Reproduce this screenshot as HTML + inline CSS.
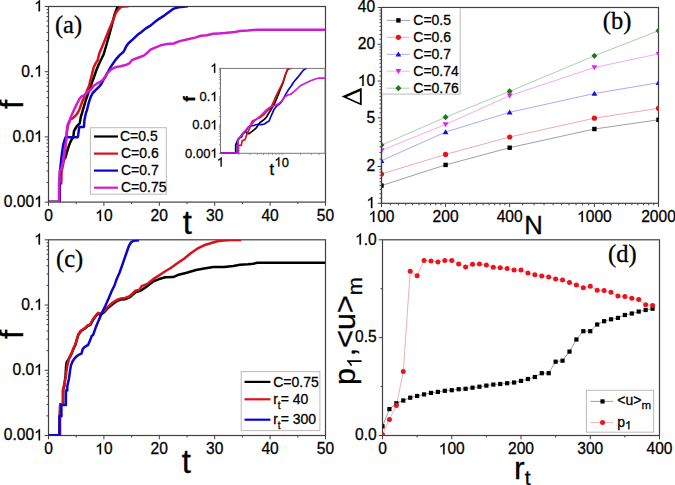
<!DOCTYPE html>
<html><head><meta charset="utf-8"><style>
html,body{margin:0;padding:0;background:#fff;overflow:hidden;}
svg{display:block;}
.s{font-family:"Liberation Sans",sans-serif;stroke:#000;stroke-width:0.28px;}
.r{font-family:"Liberation Serif",serif;stroke:#000;stroke-width:0.28px;}
</style></head><body>
<svg width="675" height="485" viewBox="0 0 675 485">
<defs><clipPath id="cA"><rect x="48.5" y="6.5" width="277.00" height="195.60"/></clipPath><clipPath id="cC"><rect x="48.5" y="239.8" width="277.00" height="195.70"/></clipPath><clipPath id="cI"><rect x="220.5" y="68.4" width="104.50" height="84.90"/></clipPath><clipPath id="cB"><rect x="381.5" y="7.5" width="277.00" height="195.80"/></clipPath><clipPath id="cD"><rect x="382.5" y="239.8" width="277.00" height="195.70"/></clipPath></defs>
<rect width="675" height="485" fill="#fff"/>
<path d="M48.50 202.10v3.8M103.90 202.10v3.8M159.30 202.10v3.8M214.70 202.10v3.8M270.10 202.10v3.8M325.50 202.10v3.8" stroke="#404040" stroke-width="1.0" fill="none"/>
<path d="M76.20 202.10v2.0M131.60 202.10v2.0M187.00 202.10v2.0M242.40 202.10v2.0M297.80 202.10v2.0" stroke="#404040" stroke-width="1.0" fill="none"/>
<path d="M48.50 202.10h-3.8M48.50 136.90h-3.8M48.50 71.70h-3.8M48.50 6.50h-3.8" stroke="#404040" stroke-width="1.0" fill="none"/>
<path d="M48.50 182.47h-2.0M48.50 170.99h-2.0M48.50 162.85h-2.0M48.50 156.53h-2.0M48.50 151.36h-2.0M48.50 147.00h-2.0M48.50 143.22h-2.0M48.50 139.88h-2.0M48.50 117.27h-2.0M48.50 105.79h-2.0M48.50 97.65h-2.0M48.50 91.33h-2.0M48.50 86.16h-2.0M48.50 81.80h-2.0M48.50 78.02h-2.0M48.50 74.68h-2.0M48.50 52.07h-2.0M48.50 40.59h-2.0M48.50 32.45h-2.0M48.50 26.13h-2.0M48.50 20.96h-2.0M48.50 16.60h-2.0M48.50 12.82h-2.0M48.50 9.48h-2.0" stroke="#404040" stroke-width="1.0" fill="none"/>
<rect x="48.50" y="6.50" width="277.00" height="195.60" fill="none" stroke="#404040" stroke-width="1.2"/>
<text x="48.50" y="220.90" font-size="15.6" text-anchor="middle" class="s" >0</text>
<path transform="translate(95.22,220.90) scale(15.6)" d="M0.3726 0H0.2847V-0.5601Q0.2 -0.49 0.1084 -0.4551V-0.54Q0.27 -0.61 0.3208 -0.7158H0.3726Z" fill="#000" stroke="#000" stroke-width="0.0179"/>
<text x="103.90" y="220.90" font-size="15.6" class="s" >0</text>
<text x="159.30" y="220.90" font-size="15.6" text-anchor="middle" class="s" >20</text>
<text x="214.70" y="220.90" font-size="15.6" text-anchor="middle" class="s" >30</text>
<text x="270.10" y="220.90" font-size="15.6" text-anchor="middle" class="s" >40</text>
<text x="325.50" y="220.90" font-size="15.6" text-anchor="middle" class="s" >50</text>
<text x="3.81" y="206.90" font-size="15.6" class="s" >0.00</text>
<path transform="translate(34.17,206.90) scale(15.6)" d="M0.3726 0H0.2847V-0.5601Q0.2 -0.49 0.1084 -0.4551V-0.54Q0.27 -0.61 0.3208 -0.7158H0.3726Z" fill="#000" stroke="#000" stroke-width="0.0179"/>
<text x="12.49" y="141.70" font-size="15.6" class="s" >0.0</text>
<path transform="translate(34.17,141.70) scale(15.6)" d="M0.3726 0H0.2847V-0.5601Q0.2 -0.49 0.1084 -0.4551V-0.54Q0.27 -0.61 0.3208 -0.7158H0.3726Z" fill="#000" stroke="#000" stroke-width="0.0179"/>
<text x="21.16" y="76.50" font-size="15.6" class="s" >0.</text>
<path transform="translate(34.17,76.50) scale(15.6)" d="M0.3726 0H0.2847V-0.5601Q0.2 -0.49 0.1084 -0.4551V-0.54Q0.27 -0.61 0.3208 -0.7158H0.3726Z" fill="#000" stroke="#000" stroke-width="0.0179"/>
<path transform="translate(34.17,11.30) scale(15.6)" d="M0.3726 0H0.2847V-0.5601Q0.2 -0.49 0.1084 -0.4551V-0.54Q0.27 -0.61 0.3208 -0.7158H0.3726Z" fill="#000" stroke="#000" stroke-width="0.0179"/>
<path d="M48.50 435.50v3.8M103.90 435.50v3.8M159.30 435.50v3.8M214.70 435.50v3.8M270.10 435.50v3.8M325.50 435.50v3.8" stroke="#404040" stroke-width="1.0" fill="none"/>
<path d="M76.20 435.50v2.0M131.60 435.50v2.0M187.00 435.50v2.0M242.40 435.50v2.0M297.80 435.50v2.0" stroke="#404040" stroke-width="1.0" fill="none"/>
<path d="M48.50 435.50h-3.8M48.50 370.27h-3.8M48.50 305.03h-3.8M48.50 239.80h-3.8" stroke="#404040" stroke-width="1.0" fill="none"/>
<path d="M48.50 415.86h-2.0M48.50 404.38h-2.0M48.50 396.23h-2.0M48.50 389.90h-2.0M48.50 384.74h-2.0M48.50 380.37h-2.0M48.50 376.59h-2.0M48.50 373.25h-2.0M48.50 350.63h-2.0M48.50 339.14h-2.0M48.50 330.99h-2.0M48.50 324.67h-2.0M48.50 319.51h-2.0M48.50 315.14h-2.0M48.50 311.36h-2.0M48.50 308.02h-2.0M48.50 285.40h-2.0M48.50 273.91h-2.0M48.50 265.76h-2.0M48.50 259.44h-2.0M48.50 254.27h-2.0M48.50 249.90h-2.0M48.50 246.12h-2.0M48.50 242.78h-2.0" stroke="#404040" stroke-width="1.0" fill="none"/>
<rect x="48.50" y="239.80" width="277.00" height="195.70" fill="none" stroke="#404040" stroke-width="1.2"/>
<text x="48.50" y="454.30" font-size="15.6" text-anchor="middle" class="s" >0</text>
<path transform="translate(95.22,454.30) scale(15.6)" d="M0.3726 0H0.2847V-0.5601Q0.2 -0.49 0.1084 -0.4551V-0.54Q0.27 -0.61 0.3208 -0.7158H0.3726Z" fill="#000" stroke="#000" stroke-width="0.0179"/>
<text x="103.90" y="454.30" font-size="15.6" class="s" >0</text>
<text x="159.30" y="454.30" font-size="15.6" text-anchor="middle" class="s" >20</text>
<text x="214.70" y="454.30" font-size="15.6" text-anchor="middle" class="s" >30</text>
<text x="270.10" y="454.30" font-size="15.6" text-anchor="middle" class="s" >40</text>
<text x="325.50" y="454.30" font-size="15.6" text-anchor="middle" class="s" >50</text>
<text x="3.81" y="440.30" font-size="15.6" class="s" >0.00</text>
<path transform="translate(34.17,440.30) scale(15.6)" d="M0.3726 0H0.2847V-0.5601Q0.2 -0.49 0.1084 -0.4551V-0.54Q0.27 -0.61 0.3208 -0.7158H0.3726Z" fill="#000" stroke="#000" stroke-width="0.0179"/>
<text x="12.49" y="375.07" font-size="15.6" class="s" >0.0</text>
<path transform="translate(34.17,375.07) scale(15.6)" d="M0.3726 0H0.2847V-0.5601Q0.2 -0.49 0.1084 -0.4551V-0.54Q0.27 -0.61 0.3208 -0.7158H0.3726Z" fill="#000" stroke="#000" stroke-width="0.0179"/>
<text x="21.16" y="309.83" font-size="15.6" class="s" >0.</text>
<path transform="translate(34.17,309.83) scale(15.6)" d="M0.3726 0H0.2847V-0.5601Q0.2 -0.49 0.1084 -0.4551V-0.54Q0.27 -0.61 0.3208 -0.7158H0.3726Z" fill="#000" stroke="#000" stroke-width="0.0179"/>
<path transform="translate(34.17,244.60) scale(15.6)" d="M0.3726 0H0.2847V-0.5601Q0.2 -0.49 0.1084 -0.4551V-0.54Q0.27 -0.61 0.3208 -0.7158H0.3726Z" fill="#000" stroke="#000" stroke-width="0.0179"/>
<g clip-path="url(#cA)">
<path d="M48.4 202.0 L59.5 202.0 L59.5 185.0 L60.3 171.0 L62.8 162.8 L64.8 158.0 L65.6 157.3 L66.5 153.6 L67.9 148.9 L68.8 146.1 L70.2 142.4 L71.6 139.6 L73.0 137.8 L73.5 135.0 L74.0 131.0 L76.6 126.5 L79.7 123.4 L80.8 117.2 L82.3 112.1 L82.9 110.0 L85.5 101.2 L88.6 92.0 L91.6 83.7 L94.2 76.5 L96.3 70.3 L98.4 65.2 L100.9 60.0 L103.8 54.0 L108.4 38.0 L112.0 24.6 L114.6 14.3 L117.2 7.6 L118.5 6.2" fill="none" stroke="#000" stroke-width="2.5" stroke-linejoin="round" stroke-linecap="butt" />
<path d="M48.4 202.0 L59.8 202.0 L59.8 185.0 L61.3 183.0 L61.5 172.0 L63.0 165.0 L64.5 155.0 L65.5 145.0 L66.5 135.0 L67.9 125.5 L70.5 119.3 L73.0 118.2 L75.6 115.7 L77.2 113.6 L79.2 110.0 L82.4 101.2 L86.5 92.0 L89.1 85.8 L90.6 79.6 L92.2 73.4 L93.7 67.2 L95.8 63.1 L97.8 60.0 L99.1 54.0 L105.3 39.0 L109.4 28.7 L113.0 20.5 L115.6 13.3 L118.2 9.7 L120.7 7.1 L124.0 6.4 L128.4 6.2" fill="none" stroke="#d81218" stroke-width="2.5" stroke-linejoin="round" stroke-linecap="butt" />
<path d="M48.4 202.0 L59.5 202.0 L59.5 185.0 L60.5 166.5 L61.9 153.6 L63.3 144.3 L64.7 139.6 L65.6 137.2 L77.7 137.2 L78.2 134.7 L79.2 127.5 L79.5 127.0 L83.9 127.0 L84.4 120.3 L85.9 113.1 L87.0 110.0 L88.6 103.3 L90.6 97.1 L92.7 93.0 L95.8 89.9 L98.9 86.8 L100.9 84.7 L103.0 80.6 L105.6 76.5 L107.3 73.0 L111.2 66.2 L115.3 60.1 L119.4 55.4 L123.6 51.8 L126.1 46.6 L128.7 43.0 L132.8 39.4 L137.0 35.3 L141.1 32.2 L146.2 28.1 L150.5 25.6 L154.7 22.1 L159.5 18.6 L164.2 15.6 L169.0 12.1 L173.1 8.9 L178.4 7.3 L183.2 6.7 L187.9 6.3" fill="none" stroke="#0c04cc" stroke-width="2.5" stroke-linejoin="round" stroke-linecap="butt" />
<path d="M48.4 202.0 L59.0 202.0 L59.0 182.0 L59.6 182.0 L59.6 171.0 L61.0 170.0 L62.8 162.8 L64.2 153.6 L65.6 144.3 L66.5 138.7 L66.8 133.0 L67.0 128.0 L67.8 124.4 L69.6 120.3 L71.6 115.2 L74.0 110.0 L77.2 103.3 L79.3 99.2 L81.3 96.6 L84.4 95.1 L87.5 92.0 L90.6 89.9 L93.7 85.8 L96.8 83.7 L99.9 82.2 L103.0 79.6 L106.1 75.5 L107.1 73.5 L111.2 69.3 L115.3 67.3 L120.5 66.2 L126.6 64.7 L129.7 63.1 L131.8 60.1 L135.9 58.5 L140.1 57.0 L144.2 55.4 L147.3 52.8 L150.4 49.7 L154.6 47.9 L160.7 45.3 L166.6 44.1 L173.7 43.5 L179.6 41.1 L187.9 39.3 L195.0 37.6 L201.0 35.8 L206.9 35.2 L212.8 33.8 L218.7 33.4 L224.7 33.1 L230.0 32.6 L234.7 32.1 L239.6 31.0 L247.7 30.6 L257.5 29.7 L325.1 29.7" fill="none" stroke="#d01cd0" stroke-width="2.5" stroke-linejoin="round" stroke-linecap="butt" />
</g>
<g clip-path="url(#cC)">
<path d="M48.5 435.2 L59.9 435.2 L59.9 414.6 L60.2 404.4 L63.0 404.0 L63.0 390.0 L64.2 386.2 L65.5 375.9 L66.0 367.5 L66.6 362.5 L69.6 357.6 L71.7 353.4 L73.7 348.3 L75.3 345.2 L78.3 335.0 L81.0 331.0 L85.0 328.5 L87.7 325.8 L90.2 325.1 L93.3 319.4 L96.4 315.3 L98.4 313.4 L100.3 315.0 L104.4 312.0 L108.6 307.5 L112.7 304.0 L116.8 301.2 L120.9 299.6 L125.1 299.2 L129.2 297.5 L131.2 296.2 L133.3 294.2 L135.4 292.4 L139.5 291.0 L141.7 290.0 L147.3 286.1 L152.9 281.7 L158.5 279.4 L160.0 278.7 L165.3 277.3 L173.3 277.1 L178.7 274.7 L186.7 272.7 L196.0 270.0 L204.0 268.4 L213.3 267.1 L224.0 266.9 L233.3 266.0 L240.0 264.8 L248.0 264.3 L253.3 263.7 L257.3 262.7 L325.3 262.7" fill="none" stroke="#000" stroke-width="2.5" stroke-linejoin="round" stroke-linecap="butt" />
<path d="M48.5 435.2 L59.9 435.2 L59.9 414.6 L60.2 404.4 L63.0 404.0 L63.0 390.0 L64.0 385.1 L64.2 386.2 L65.8 375.9 L67.3 365.6 L69.4 357.4 L71.5 353.2 L73.5 348.1 L75.1 345.0 L78.1 334.8 L80.8 330.7 L84.8 328.1 L87.5 325.4 L90.0 324.7 L93.1 319.0 L96.2 314.9 L98.2 312.8 L100.3 313.9 L104.4 310.8 L108.6 306.1 L112.7 302.5 L116.8 300.0 L120.9 298.4 L125.1 297.9 L129.2 296.3 L131.2 294.8 L133.3 292.7 L135.4 290.7 L139.5 289.6 L141.7 286.1 L147.3 283.9 L152.9 279.4 L159.6 275.0 L165.3 271.3 L170.7 268.0 L177.3 263.3 L184.0 258.7 L190.7 253.3 L197.3 248.7 L204.0 245.3 L210.7 243.3 L217.3 241.3 L224.0 240.4 L230.7 240.1 L241.3 240.0" fill="none" stroke="#d81218" stroke-width="2.5" stroke-linejoin="round" stroke-linecap="butt" />
<path d="M48.5 435.2 L59.4 435.2 L59.4 416.2 L61.4 416.2 L61.4 404.9 L65.9 404.9 L65.9 390.5 L67.3 390.5 L67.3 386.2 L68.9 379.0 L69.9 371.8 L70.9 365.6 L72.5 361.5 L74.6 358.4 L76.6 356.3 L79.7 354.3 L81.5 353.6 L82.8 348.9 L84.8 346.8 L88.2 344.8 L90.2 340.1 L91.6 336.1 L93.1 335.0 L96.2 326.2 L99.3 319.0 L102.4 311.8 L105.5 305.6 L108.6 298.4 L111.6 291.2 L114.7 285.0 L116.1 280.5 L119.5 272.7 L122.3 265.0 L125.0 257.2 L127.3 250.5 L128.9 246.0 L131.2 242.1 L134.0 240.7 L139.0 240.2" fill="none" stroke="#0c04cc" stroke-width="2.5" stroke-linejoin="round" stroke-linecap="butt" />
</g>
<rect x="90.4" y="127.7" width="75.9" height="66.5" fill="#fff" stroke="#bbb" stroke-width="1"/>
<path d="M94 136.5H118" stroke="#000" stroke-width="2.2"/>
<text x="120.00" y="141.10" font-size="14" text-anchor="start" class="s" >C=0.5</text>
<path d="M94 153.6H118" stroke="#d81218" stroke-width="2.2"/>
<text x="121.00" y="158.15" font-size="14" text-anchor="start" class="s" >C=0.6</text>
<path d="M94 170.6H118" stroke="#0c04cc" stroke-width="2.2"/>
<text x="121.00" y="175.20" font-size="14" text-anchor="start" class="s" >C=0.7</text>
<path d="M94 187.7H118" stroke="#d01cd0" stroke-width="2.2"/>
<text x="121.00" y="192.25" font-size="14" text-anchor="start" class="s" >C=0.75</text>
<rect x="220.5" y="68.4" width="104.5" height="84.9" fill="#fff" stroke="none"/>
<path d="M220.5 144.78h-1.6M220.5 139.80h-1.6M220.5 136.26h-1.6M220.5 133.52h-1.6M220.5 131.28h-1.6M220.5 129.38h-1.6M220.5 127.74h-1.6M220.5 126.29h-1.6M220.5 116.48h-1.6M220.5 111.50h-1.6M220.5 107.96h-1.6M220.5 105.22h-1.6M220.5 102.98h-1.6M220.5 101.08h-1.6M220.5 99.44h-1.6M220.5 97.99h-1.6M220.5 88.18h-1.6M220.5 83.20h-1.6M220.5 79.66h-1.6M220.5 76.92h-1.6M220.5 74.68h-1.6M220.5 72.78h-1.6M220.5 71.14h-1.6M220.5 69.69h-1.6M220.5 153.30h-1.6M220.5 125.00h-1.6M220.5 96.70h-1.6M220.5 68.40h-1.6" stroke="#777" stroke-width="0.8"/>
<path d="M239.02 153.3v1.6M249.85 153.3v1.6M257.53 153.3v1.6M263.49 153.3v1.6M268.36 153.3v1.6M272.48 153.3v1.6M276.05 153.3v1.6M279.19 153.3v1.6M282.01 153.3v1.6M300.52 153.3v1.6M311.35 153.3v1.6M319.04 153.3v1.6" stroke="#777" stroke-width="0.8"/>
<rect x="220.5" y="68.4" width="104.5" height="84.9" fill="none" stroke="#777" stroke-width="1"/>
<g clip-path="url(#cI)">
<path d="M220.5 153.2 L235.7 153.2 L235.7 144.8 L237.6 140.6 L240.3 136.9 L242.7 133.7 L245.0 131.3 L247.0 133.2 L249.2 133.7 L253.3 130.4 L256.1 128.1 L259.8 122.6 L263.6 120.0 L266.3 117.3 L269.1 112.6 L271.9 108.0 L274.7 103.3 L276.6 98.7 L278.4 94.1 L280.7 88.5 L283.0 82.9 L285.2 75.5 L287.3 70.0 L289.0 68.5" fill="none" stroke="#000" stroke-width="1.7" stroke-linejoin="round" stroke-linecap="butt" />
<path d="M220.5 153.2 L238.5 153.2 L238.5 145.3 L241.3 145.3 L242.2 140.6 L245.0 139.7 L245.9 136.9 L247.3 133.2 L249.6 128.6 L251.0 123.9 L252.4 121.1 L256.1 119.3 L259.8 117.8 L264.5 114.0 L267.3 110.8 L270.1 108.4 L271.9 105.2 L273.8 101.5 L275.6 96.8 L277.5 93.1 L279.3 89.4 L281.2 85.7 L283.0 82.0 L285.2 75.0 L287.5 69.5 L289.8 68.5 L292.1 68.4" fill="none" stroke="#d81218" stroke-width="1.7" stroke-linejoin="round" stroke-linecap="butt" />
<path d="M220.5 153.2 L237.6 153.2 L237.6 140.6 L239.4 137.8 L241.7 136.9 L243.1 133.7 L245.9 130.9 L248.2 127.2 L250.6 125.8 L254.3 125.3 L258.0 124.3 L261.7 124.6 L264.5 124.0 L267.3 121.9 L269.1 121.0 L271.0 116.3 L273.8 109.8 L276.6 106.1 L280.3 103.3 L283.0 99.6 L285.8 94.1 L288.6 89.4 L291.4 85.7 L293.7 82.0 L298.1 76.9 L302.7 70.9 L305.4 68.6 L306.8 68.4" fill="none" stroke="#0c04cc" stroke-width="1.7" stroke-linejoin="round" stroke-linecap="butt" />
<path d="M220.5 153.2 L238.0 153.2 L238.0 139.0 L239.4 137.8 L242.2 135.0 L245.0 131.3 L246.8 128.6 L249.2 126.7 L251.9 123.9 L254.3 121.1 L258.0 118.0 L261.7 114.5 L265.4 110.8 L268.2 108.4 L271.9 106.1 L275.6 105.2 L279.3 103.3 L282.1 100.6 L284.9 96.8 L287.7 95.0 L290.5 94.5 L293.3 92.2 L296.0 89.9 L298.0 88.0 L299.9 86.0 L304.5 83.7 L310.0 81.0 L314.6 79.2 L318.3 78.2 L325.0 78.2" fill="none" stroke="#d01cd0" stroke-width="1.7" stroke-linejoin="round" stroke-linecap="butt" />
</g>
<path transform="translate(210.37,72.80) scale(13)" d="M0.3726 0H0.2847V-0.5601Q0.2 -0.49 0.1084 -0.4551V-0.54Q0.27 -0.61 0.3208 -0.7158H0.3726Z" fill="#000" stroke="#000" stroke-width="0.0215"/>
<text x="199.53" y="101.10" font-size="13" class="s" >0.</text>
<path transform="translate(210.37,101.10) scale(13)" d="M0.3726 0H0.2847V-0.5601Q0.2 -0.49 0.1084 -0.4551V-0.54Q0.27 -0.61 0.3208 -0.7158H0.3726Z" fill="#000" stroke="#000" stroke-width="0.0215"/>
<text x="192.30" y="129.40" font-size="13" class="s" >0.0</text>
<path transform="translate(210.37,129.40) scale(13)" d="M0.3726 0H0.2847V-0.5601Q0.2 -0.49 0.1084 -0.4551V-0.54Q0.27 -0.61 0.3208 -0.7158H0.3726Z" fill="#000" stroke="#000" stroke-width="0.0215"/>
<text x="185.07" y="157.70" font-size="13" class="s" >0.00</text>
<path transform="translate(210.37,157.70) scale(13)" d="M0.3726 0H0.2847V-0.5601Q0.2 -0.49 0.1084 -0.4551V-0.54Q0.27 -0.61 0.3208 -0.7158H0.3726Z" fill="#000" stroke="#000" stroke-width="0.0215"/>
<path transform="translate(216.88,166.60) scale(13)" d="M0.3726 0H0.2847V-0.5601Q0.2 -0.49 0.1084 -0.4551V-0.54Q0.27 -0.61 0.3208 -0.7158H0.3726Z" fill="#000" stroke="#000" stroke-width="0.0215"/>
<path transform="translate(274.48,166.60) scale(13)" d="M0.3726 0H0.2847V-0.5601Q0.2 -0.49 0.1084 -0.4551V-0.54Q0.27 -0.61 0.3208 -0.7158H0.3726Z" fill="#000" stroke="#000" stroke-width="0.0215"/>
<text x="281.71" y="166.60" font-size="13" class="s" >0</text>
<text x="269.40" y="174.60" font-size="16.5" text-anchor="start" class="s" >t</text>
<text transform="translate(195.0,98.8) rotate(-90)" font-size="17" font-weight="bold" class="s" text-anchor="middle">f</text>
<path d="M381.50 203.30v3.8M445.59 203.30v3.8M509.68 203.30v3.8M594.41 203.30v3.8M658.50 203.30v3.8" stroke="#404040" stroke-width="1.0" fill="none"/>
<path d="M390.31 203.30v2.0M398.36 203.30v2.0M405.76 203.30v2.0M412.61 203.30v2.0M418.99 203.30v2.0M424.96 203.30v2.0M430.56 203.30v2.0M435.85 203.30v2.0M440.85 203.30v2.0M454.40 203.30v2.0M462.45 203.30v2.0M469.85 203.30v2.0M476.70 203.30v2.0M483.08 203.30v2.0M489.05 203.30v2.0M494.66 203.30v2.0M499.94 203.30v2.0M504.94 203.30v2.0M522.61 203.30v2.0M533.94 203.30v2.0M544.04 203.30v2.0M553.14 203.30v2.0M561.43 203.30v2.0M569.03 203.30v2.0M576.06 203.30v2.0M582.59 203.30v2.0M588.69 203.30v2.0M603.22 203.30v2.0M611.27 203.30v2.0M618.67 203.30v2.0M625.52 203.30v2.0M631.90 203.30v2.0M637.87 203.30v2.0M643.47 203.30v2.0M648.76 203.30v2.0M653.76 203.30v2.0" stroke="#404040" stroke-width="1.0" fill="none"/>
<path d="M381.50 203.30h-3.8M381.50 166.51h-3.8M381.50 117.87h-3.8M381.50 81.08h-3.8M381.50 44.29h-3.8M381.50 7.50h-3.8" stroke="#404040" stroke-width="1.0" fill="none"/>
<path d="M381.50 198.24h-2.0M381.50 193.62h-2.0M381.50 189.37h-2.0M381.50 185.44h-2.0M381.50 181.78h-2.0M381.50 178.35h-2.0M381.50 175.14h-2.0M381.50 172.10h-2.0M381.50 169.23h-2.0M381.50 159.09h-2.0M381.50 152.58h-2.0M381.50 146.79h-2.0M381.50 141.56h-2.0M381.50 136.81h-2.0M381.50 132.44h-2.0M381.50 128.41h-2.0M381.50 124.66h-2.0M381.50 121.16h-2.0M381.50 112.81h-2.0M381.50 108.20h-2.0M381.50 103.95h-2.0M381.50 100.01h-2.0M381.50 96.35h-2.0M381.50 92.93h-2.0M381.50 89.71h-2.0M381.50 86.67h-2.0M381.50 83.80h-2.0M381.50 76.02h-2.0M381.50 71.41h-2.0M381.50 67.16h-2.0M381.50 63.22h-2.0M381.50 59.56h-2.0M381.50 56.14h-2.0M381.50 52.92h-2.0M381.50 49.88h-2.0M381.50 47.01h-2.0M381.50 39.23h-2.0M381.50 34.61h-2.0M381.50 30.37h-2.0M381.50 26.43h-2.0M381.50 22.77h-2.0M381.50 19.34h-2.0M381.50 16.13h-2.0M381.50 13.09h-2.0M381.50 10.22h-2.0" stroke="#404040" stroke-width="1.0" fill="none"/>
<rect x="381.50" y="7.50" width="277.00" height="195.80" fill="none" stroke="#404040" stroke-width="1.2"/>
<g clip-path="url(#cB)">
<path d="M381.5 185.6 L445.6 164.9 L509.7 147.7 L594.4 129.0 L658.5 119.8" fill="none" stroke="#959595" stroke-width="0.9" stroke-linejoin="round" stroke-linecap="butt" />
<path d="M381.5 174.0 L445.6 154.4 L509.7 137.0 L594.4 118.2 L658.5 108.3" fill="none" stroke="#f2a0a0" stroke-width="0.9" stroke-linejoin="round" stroke-linecap="butt" />
<path d="M381.5 160.7 L445.6 132.0 L509.7 112.3 L594.4 93.5 L658.5 82.7" fill="none" stroke="#a0a0f2" stroke-width="0.9" stroke-linejoin="round" stroke-linecap="butt" />
<path d="M381.5 150.4 L445.6 124.4 L509.7 95.7 L594.4 67.5 L658.5 53.9" fill="none" stroke="#f2a0f2" stroke-width="0.9" stroke-linejoin="round" stroke-linecap="butt" />
<path d="M381.5 145.1 L445.6 117.2 L509.7 91.3 L594.4 55.8 L658.5 30.7" fill="none" stroke="#a0cca0" stroke-width="0.9" stroke-linejoin="round" stroke-linecap="butt" />
<rect x="379.30" y="183.40" width="4.40" height="4.40" fill="#000"/>
<rect x="443.39" y="162.70" width="4.40" height="4.40" fill="#000"/>
<rect x="507.48" y="145.50" width="4.40" height="4.40" fill="#000"/>
<rect x="592.21" y="126.80" width="4.40" height="4.40" fill="#000"/>
<rect x="656.30" y="117.60" width="4.40" height="4.40" fill="#000"/>
<circle cx="381.50" cy="174.00" r="2.60" fill="#e8141e"/>
<circle cx="445.59" cy="154.40" r="2.60" fill="#e8141e"/>
<circle cx="509.68" cy="137.00" r="2.60" fill="#e8141e"/>
<circle cx="594.41" cy="118.20" r="2.60" fill="#e8141e"/>
<circle cx="658.50" cy="108.30" r="2.60" fill="#e8141e"/>
<path d="M381.50 157.90L384.40 162.90H378.60Z" fill="#1414d8"/>
<path d="M445.59 129.20L448.49 134.20H442.69Z" fill="#1414d8"/>
<path d="M509.68 109.50L512.58 114.50H506.78Z" fill="#1414d8"/>
<path d="M594.41 90.70L597.31 95.70H591.51Z" fill="#1414d8"/>
<path d="M658.50 79.90L661.40 84.90H655.60Z" fill="#1414d8"/>
<path d="M381.50 153.20L384.40 148.20H378.60Z" fill="#e61ee6"/>
<path d="M445.59 127.20L448.49 122.20H442.69Z" fill="#e61ee6"/>
<path d="M509.68 98.50L512.58 93.50H506.78Z" fill="#e61ee6"/>
<path d="M594.41 70.30L597.31 65.30H591.51Z" fill="#e61ee6"/>
<path d="M658.50 56.70L661.40 51.70H655.60Z" fill="#e61ee6"/>
<path d="M381.50 142.00L384.50 145.10L381.50 148.20L378.50 145.10Z" fill="#1e781e"/>
<path d="M445.59 114.10L448.59 117.20L445.59 120.30L442.59 117.20Z" fill="#1e781e"/>
<path d="M509.68 88.20L512.68 91.30L509.68 94.40L506.68 91.30Z" fill="#1e781e"/>
<path d="M594.41 52.70L597.41 55.80L594.41 58.90L591.41 55.80Z" fill="#1e781e"/>
<path d="M658.50 27.60L661.50 30.70L658.50 33.80L655.50 30.70Z" fill="#1e781e"/>
</g>
<rect x="381.5" y="7.5" width="78.7" height="86.6" fill="#fff" stroke="#bbb" stroke-width="1"/>
<path d="M386.9 20.4H409.7" stroke="#959595" stroke-width="0.9"/>
<rect x="396.20" y="18.20" width="4.40" height="4.40" fill="#000"/>
<text x="413.30" y="25.00" font-size="14" text-anchor="start" class="s" >C=0.5</text>
<path d="M386.9 37.3H409.7" stroke="#f2a0a0" stroke-width="0.9"/>
<circle cx="398.40" cy="37.35" r="2.60" fill="#e8141e"/>
<text x="413.30" y="41.95" font-size="14" text-anchor="start" class="s" >C=0.6</text>
<path d="M386.9 54.3H409.7" stroke="#a0a0f2" stroke-width="0.9"/>
<path d="M398.40 51.50L401.30 56.50H395.50Z" fill="#1414d8"/>
<text x="413.30" y="58.90" font-size="14" text-anchor="start" class="s" >C=0.7</text>
<path d="M386.9 71.2H409.7" stroke="#f2a0f2" stroke-width="0.9"/>
<path d="M398.40 74.05L401.30 69.05H395.50Z" fill="#e61ee6"/>
<text x="413.30" y="75.85" font-size="14" text-anchor="start" class="s" >C=0.74</text>
<path d="M386.9 88.2H409.7" stroke="#a0cca0" stroke-width="0.9"/>
<path d="M398.40 85.10L401.40 88.20L398.40 91.30L395.40 88.20Z" fill="#1e781e"/>
<text x="413.30" y="92.80" font-size="14" text-anchor="start" class="s" >C=0.76</text>
<path d="M381.5 203.3V7.5H658.5" fill="none" stroke="#404040" stroke-width="1.2"/>
<path transform="translate(368.49,222.10) scale(15.6)" d="M0.3726 0H0.2847V-0.5601Q0.2 -0.49 0.1084 -0.4551V-0.54Q0.27 -0.61 0.3208 -0.7158H0.3726Z" fill="#000" stroke="#000" stroke-width="0.0179"/>
<text x="377.16" y="222.10" font-size="15.6" class="s" >00</text>
<text x="445.59" y="222.10" font-size="15.6" text-anchor="middle" class="s" >200</text>
<text x="509.68" y="222.10" font-size="15.6" text-anchor="middle" class="s" >400</text>
<path transform="translate(577.06,222.10) scale(15.6)" d="M0.3726 0H0.2847V-0.5601Q0.2 -0.49 0.1084 -0.4551V-0.54Q0.27 -0.61 0.3208 -0.7158H0.3726Z" fill="#000" stroke="#000" stroke-width="0.0179"/>
<text x="585.73" y="222.10" font-size="15.6" class="s" >000</text>
<text x="658.50" y="222.10" font-size="15.6" text-anchor="middle" class="s" >2000</text>
<path transform="translate(366.52,208.10) scale(15.6)" d="M0.3726 0H0.2847V-0.5601Q0.2 -0.49 0.1084 -0.4551V-0.54Q0.27 -0.61 0.3208 -0.7158H0.3726Z" fill="#000" stroke="#000" stroke-width="0.0179"/>
<text x="375.20" y="171.31" font-size="15.6" text-anchor="end" class="s" >2</text>
<text x="375.20" y="122.67" font-size="15.6" text-anchor="end" class="s" >5</text>
<path transform="translate(357.85,85.88) scale(15.6)" d="M0.3726 0H0.2847V-0.5601Q0.2 -0.49 0.1084 -0.4551V-0.54Q0.27 -0.61 0.3208 -0.7158H0.3726Z" fill="#000" stroke="#000" stroke-width="0.0179"/>
<text x="366.52" y="85.88" font-size="15.6" class="s" >0</text>
<text x="375.20" y="49.09" font-size="15.6" text-anchor="end" class="s" >20</text>
<text x="375.20" y="12.30" font-size="15.6" text-anchor="end" class="s" >40</text>
<path d="M382.50 435.50v3.8M451.75 435.50v3.8M521.00 435.50v3.8M590.25 435.50v3.8M659.50 435.50v3.8" stroke="#404040" stroke-width="1.0" fill="none"/>
<path d="M417.12 435.50v2.0M486.38 435.50v2.0M555.62 435.50v2.0M624.88 435.50v2.0" stroke="#404040" stroke-width="1.0" fill="none"/>
<path d="M382.50 435.50h-3.8M382.50 337.65h-3.8M382.50 239.80h-3.8" stroke="#404040" stroke-width="1.0" fill="none"/>
<path d="M382.50 386.57h-2.0M382.50 288.73h-2.0" stroke="#404040" stroke-width="1.0" fill="none"/>
<rect x="382.50" y="239.80" width="277.00" height="195.70" fill="none" stroke="#404040" stroke-width="1.2"/>
<g clip-path="url(#cD)">
<path d="M382.5 426.3 L389.4 409.1 L396.4 403.3 L403.3 400.5 L410.2 397.7 L417.1 396.0 L424.1 394.4 L431.0 392.9 L437.9 391.9 L444.8 390.8 L451.8 390.2 L458.7 389.2 L465.6 388.8 L472.5 387.7 L479.4 386.7 L486.4 385.6 L493.3 384.6 L500.2 384.0 L507.1 383.2 L514.1 382.5 L521.0 380.9 L527.9 379.0 L534.9 377.0 L541.8 373.2 L548.7 373.2 L555.6 361.7 L562.5 360.7 L569.5 351.6 L576.4 339.5 L583.3 331.2 L590.2 331.2 L597.2 324.5 L604.1 321.2 L611.0 319.3 L618.0 317.9 L624.9 315.0 L631.8 313.5 L638.7 311.6 L645.6 310.0 L652.6 308.7" fill="none" stroke="#888" stroke-width="0.8" stroke-linejoin="round" stroke-linecap="butt" />
<path d="M382.5 434.8 L389.4 419.4 L396.4 405.6 L403.3 371.5 L410.2 271.3 L417.1 275.8 L424.1 260.4 L431.0 261.1 L437.9 261.9 L444.8 260.4 L451.8 260.5 L458.7 263.9 L465.6 267.1 L472.5 264.2 L479.4 264.1 L486.4 265.1 L493.3 267.3 L500.2 267.8 L507.1 268.5 L514.1 270.0 L521.0 270.0 L527.9 273.0 L534.9 274.7 L541.8 275.9 L548.7 277.0 L555.6 279.1 L562.5 280.0 L569.5 282.5 L576.4 285.1 L583.3 287.7 L590.2 286.3 L597.2 290.2 L604.1 290.6 L611.0 292.3 L618.0 296.0 L624.9 296.5 L631.8 298.2 L638.7 299.6 L645.6 304.7 L652.6 305.5" fill="none" stroke="#f39a9a" stroke-width="0.8" stroke-linejoin="round" stroke-linecap="butt" />
<rect x="380.40" y="424.20" width="4.2" height="4.2" fill="#000"/>
<rect x="387.32" y="407.00" width="4.2" height="4.2" fill="#000"/>
<rect x="394.25" y="401.20" width="4.2" height="4.2" fill="#000"/>
<rect x="401.17" y="398.40" width="4.2" height="4.2" fill="#000"/>
<rect x="408.10" y="395.60" width="4.2" height="4.2" fill="#000"/>
<rect x="415.02" y="393.90" width="4.2" height="4.2" fill="#000"/>
<rect x="421.95" y="392.30" width="4.2" height="4.2" fill="#000"/>
<rect x="428.88" y="390.80" width="4.2" height="4.2" fill="#000"/>
<rect x="435.80" y="389.80" width="4.2" height="4.2" fill="#000"/>
<rect x="442.72" y="388.70" width="4.2" height="4.2" fill="#000"/>
<rect x="449.65" y="388.10" width="4.2" height="4.2" fill="#000"/>
<rect x="456.57" y="387.10" width="4.2" height="4.2" fill="#000"/>
<rect x="463.50" y="386.70" width="4.2" height="4.2" fill="#000"/>
<rect x="470.42" y="385.60" width="4.2" height="4.2" fill="#000"/>
<rect x="477.35" y="384.60" width="4.2" height="4.2" fill="#000"/>
<rect x="484.27" y="383.50" width="4.2" height="4.2" fill="#000"/>
<rect x="491.20" y="382.50" width="4.2" height="4.2" fill="#000"/>
<rect x="498.12" y="381.90" width="4.2" height="4.2" fill="#000"/>
<rect x="505.05" y="381.10" width="4.2" height="4.2" fill="#000"/>
<rect x="511.98" y="380.40" width="4.2" height="4.2" fill="#000"/>
<rect x="518.90" y="378.80" width="4.2" height="4.2" fill="#000"/>
<rect x="525.82" y="376.90" width="4.2" height="4.2" fill="#000"/>
<rect x="532.75" y="374.90" width="4.2" height="4.2" fill="#000"/>
<rect x="539.67" y="371.10" width="4.2" height="4.2" fill="#000"/>
<rect x="546.60" y="371.10" width="4.2" height="4.2" fill="#000"/>
<rect x="553.52" y="359.60" width="4.2" height="4.2" fill="#000"/>
<rect x="560.45" y="358.60" width="4.2" height="4.2" fill="#000"/>
<rect x="567.38" y="349.50" width="4.2" height="4.2" fill="#000"/>
<rect x="574.30" y="337.40" width="4.2" height="4.2" fill="#000"/>
<rect x="581.23" y="329.10" width="4.2" height="4.2" fill="#000"/>
<rect x="588.15" y="329.10" width="4.2" height="4.2" fill="#000"/>
<rect x="595.07" y="322.40" width="4.2" height="4.2" fill="#000"/>
<rect x="602.00" y="319.10" width="4.2" height="4.2" fill="#000"/>
<rect x="608.92" y="317.20" width="4.2" height="4.2" fill="#000"/>
<rect x="615.85" y="315.80" width="4.2" height="4.2" fill="#000"/>
<rect x="622.77" y="312.90" width="4.2" height="4.2" fill="#000"/>
<rect x="629.70" y="311.40" width="4.2" height="4.2" fill="#000"/>
<rect x="636.62" y="309.50" width="4.2" height="4.2" fill="#000"/>
<rect x="643.55" y="307.90" width="4.2" height="4.2" fill="#000"/>
<rect x="650.48" y="306.60" width="4.2" height="4.2" fill="#000"/>
<circle cx="382.50" cy="434.80" r="2.5" fill="#e8141e"/>
<circle cx="389.43" cy="419.40" r="2.5" fill="#e8141e"/>
<circle cx="396.35" cy="405.60" r="2.5" fill="#e8141e"/>
<circle cx="403.27" cy="371.50" r="2.5" fill="#e8141e"/>
<circle cx="410.20" cy="271.30" r="2.5" fill="#e8141e"/>
<circle cx="417.12" cy="275.80" r="2.5" fill="#e8141e"/>
<circle cx="424.05" cy="260.40" r="2.5" fill="#e8141e"/>
<circle cx="430.98" cy="261.10" r="2.5" fill="#e8141e"/>
<circle cx="437.90" cy="261.90" r="2.5" fill="#e8141e"/>
<circle cx="444.82" cy="260.40" r="2.5" fill="#e8141e"/>
<circle cx="451.75" cy="260.50" r="2.5" fill="#e8141e"/>
<circle cx="458.68" cy="263.90" r="2.5" fill="#e8141e"/>
<circle cx="465.60" cy="267.10" r="2.5" fill="#e8141e"/>
<circle cx="472.52" cy="264.20" r="2.5" fill="#e8141e"/>
<circle cx="479.45" cy="264.10" r="2.5" fill="#e8141e"/>
<circle cx="486.38" cy="265.10" r="2.5" fill="#e8141e"/>
<circle cx="493.30" cy="267.30" r="2.5" fill="#e8141e"/>
<circle cx="500.23" cy="267.80" r="2.5" fill="#e8141e"/>
<circle cx="507.15" cy="268.50" r="2.5" fill="#e8141e"/>
<circle cx="514.08" cy="270.00" r="2.5" fill="#e8141e"/>
<circle cx="521.00" cy="270.00" r="2.5" fill="#e8141e"/>
<circle cx="527.92" cy="273.00" r="2.5" fill="#e8141e"/>
<circle cx="534.85" cy="274.70" r="2.5" fill="#e8141e"/>
<circle cx="541.77" cy="275.90" r="2.5" fill="#e8141e"/>
<circle cx="548.70" cy="277.00" r="2.5" fill="#e8141e"/>
<circle cx="555.62" cy="279.10" r="2.5" fill="#e8141e"/>
<circle cx="562.55" cy="280.00" r="2.5" fill="#e8141e"/>
<circle cx="569.48" cy="282.50" r="2.5" fill="#e8141e"/>
<circle cx="576.40" cy="285.10" r="2.5" fill="#e8141e"/>
<circle cx="583.33" cy="287.70" r="2.5" fill="#e8141e"/>
<circle cx="590.25" cy="286.30" r="2.5" fill="#e8141e"/>
<circle cx="597.17" cy="290.20" r="2.5" fill="#e8141e"/>
<circle cx="604.10" cy="290.60" r="2.5" fill="#e8141e"/>
<circle cx="611.02" cy="292.30" r="2.5" fill="#e8141e"/>
<circle cx="617.95" cy="296.00" r="2.5" fill="#e8141e"/>
<circle cx="624.88" cy="296.50" r="2.5" fill="#e8141e"/>
<circle cx="631.80" cy="298.20" r="2.5" fill="#e8141e"/>
<circle cx="638.73" cy="299.60" r="2.5" fill="#e8141e"/>
<circle cx="645.65" cy="304.70" r="2.5" fill="#e8141e"/>
<circle cx="652.58" cy="305.50" r="2.5" fill="#e8141e"/>
</g>
<rect x="586.4" y="390.3" width="67.2" height="41.9" fill="#fff" stroke="#bbb" stroke-width="1"/>
<path d="M590.4 401.4H613.3" stroke="#888" stroke-width="0.8"/>
<rect x="600.4" y="399.3" width="4.2" height="4.2" fill="#000"/>
<path d="M590.4 422.6H613.3" stroke="#f39a9a" stroke-width="0.8"/>
<circle cx="602.5" cy="422.6" r="2.5" fill="#e8141e"/>
<text x="617.3" y="405.4" font-size="14" class="s">&lt;u&gt;<tspan font-size="11.5" dy="3.4">m</tspan></text>
<text x="617.3" y="426.8" font-size="14" class="s">p</text>
<path transform="translate(625.08,429.2) scale(11.5)" d="M0.3726 0H0.2847V-0.5601Q0.2 -0.49 0.1084 -0.4551V-0.54Q0.27 -0.61 0.3208 -0.7158H0.3726Z" fill="#000" stroke="#000" stroke-width="0.03"/>
<text x="382.50" y="454.30" font-size="15.6" text-anchor="middle" class="s" >0</text>
<path transform="translate(438.74,454.30) scale(15.6)" d="M0.3726 0H0.2847V-0.5601Q0.2 -0.49 0.1084 -0.4551V-0.54Q0.27 -0.61 0.3208 -0.7158H0.3726Z" fill="#000" stroke="#000" stroke-width="0.0179"/>
<text x="447.41" y="454.30" font-size="15.6" class="s" >00</text>
<text x="521.00" y="454.30" font-size="15.6" text-anchor="middle" class="s" >200</text>
<text x="590.25" y="454.30" font-size="15.6" text-anchor="middle" class="s" >300</text>
<text x="659.50" y="454.30" font-size="15.6" text-anchor="middle" class="s" >400</text>
<text x="376.80" y="440.30" font-size="15.6" text-anchor="end" class="s" >0.0</text>
<text x="376.80" y="342.45" font-size="15.6" text-anchor="end" class="s" >0.5</text>
<path transform="translate(355.11,244.60) scale(15.6)" d="M0.3726 0H0.2847V-0.5601Q0.2 -0.49 0.1084 -0.4551V-0.54Q0.27 -0.61 0.3208 -0.7158H0.3726Z" fill="#000" stroke="#000" stroke-width="0.0179"/>
<text x="363.79" y="244.60" font-size="15.6" class="s" >.0</text>
<rect x="241.2" y="371.6" width="78.7" height="59.0" fill="#fff" stroke="#bbb" stroke-width="1"/>
<path d="M244.5 381.9H270.4" stroke="#000" stroke-width="2.2"/>
<path d="M244.5 399.3H270.4" stroke="#d81218" stroke-width="2.2"/>
<path d="M244.5 419.7H270.4" stroke="#0c04cc" stroke-width="2.2"/>
<text x="273.20" y="386.60" font-size="14" text-anchor="start" class="s" >C=0.75</text>
<text x="273.2" y="404.0" font-size="14" class="s">r<tspan font-size="10" dy="4.5">t</tspan><tspan dy="-4.5">= 40</tspan></text>
<text x="273.2" y="424.4" font-size="14" class="s">r<tspan font-size="10" dy="4.5">t</tspan><tspan dy="-4.5">= 300</tspan></text>
<text x="182.80" y="233.50" font-size="33" text-anchor="start" class="s" >t</text>
<text x="181.80" y="472.80" font-size="33" text-anchor="start" class="s" >t</text>
<text transform="translate(22.8,104.5) rotate(-90)" font-size="33" class="s" text-anchor="middle">f</text>
<text transform="translate(22.8,334.5) rotate(-90)" font-size="33" class="s" text-anchor="middle">f</text>
<text x="524.20" y="234.00" font-size="25.7" text-anchor="start" class="s" >N</text>
<text x="514" y="479.4" font-size="32" class="s">r<tspan font-size="21" dy="5.1">t</tspan></text>
<path d="M341.6 96.5L361.7 87.7L361.7 105.4ZM346.68 97.11L359.9 102.96L359.9 91.32Z" fill="#000" fill-rule="evenodd"/>
<g transform="translate(355,385.1) rotate(-90) scale(1.05,1)"><text x="0" y="0" font-size="29" class="s">p</text><path transform="translate(16.12,6.6) scale(20.5)" d="M0.3726 0H0.2847V-0.5601Q0.2 -0.49 0.1084 -0.4551V-0.54Q0.27 -0.61 0.3208 -0.7158H0.3726Z" fill="#000"/><text x="27.52" y="0" font-size="29" class="s">,&lt;u&gt;</text><text x="85.58" y="6.6" font-size="20.5" class="s">m</text></g>
<text x="54.90" y="33.00" font-size="24.5" text-anchor="start" class="r" >(a)</text>
<text x="602.80" y="28.70" font-size="24.5" text-anchor="start" class="r" >(b)</text>
<text x="56.00" y="266.60" font-size="24.5" text-anchor="start" class="r" >(c)</text>
<text x="608.00" y="262.40" font-size="24.5" text-anchor="start" class="r" >(d)</text>
</svg></body></html>
